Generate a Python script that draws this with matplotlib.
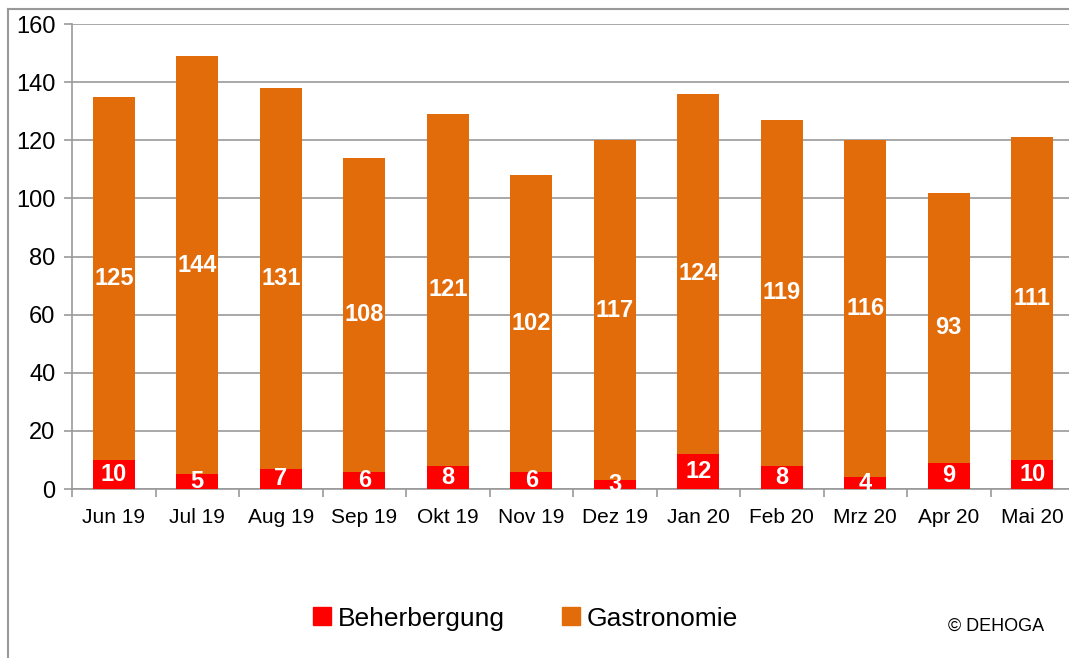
import numpy as np
import matplotlib
matplotlib.use("Agg")
import matplotlib.pyplot as plt
from matplotlib.lines import Line2D

plt.rcParams['font.family'] = ['Liberation Sans', 'DejaVu Sans']

months = ["Jun 19", "Jul 19", "Aug 19", "Sep 19", "Okt 19", "Nov 19",
          "Dez 19", "Jan 20", "Feb 20", "Mrz 20", "Apr 20", "Mai 20"]
beherbergung = [10, 5, 7, 6, 8, 6, 3, 12, 8, 4, 9, 10]
gastronomie = [125, 144, 131, 108, 121, 102, 117, 124, 119, 116, 93, 111]

red = "#FF0000"
orange = "#E36C0A"
grey = "#999999"

fig = plt.figure(figsize=(10.69, 6.58), dpi=100)
ax = fig.add_axes([0.0674, 0.2568, 0.9373, 0.7067])

x = np.arange(len(months))
ax.bar(x, beherbergung, width=0.5, color=red, label="Beherbergung", zorder=3)
ax.bar(x, gastronomie, width=0.5, bottom=beherbergung, color=orange,
       label="Gastronomie", zorder=3)

for i in range(len(months)):
    ax.text(x[i], beherbergung[i] / 2, str(beherbergung[i]), ha="center", va="center",
            color="white", fontsize=17, fontweight="bold", zorder=4)
    ax.text(x[i], beherbergung[i] + gastronomie[i] / 2, str(gastronomie[i]),
            ha="center", va="center", color="white", fontsize=17,
            fontweight="bold", zorder=4)

ax.set_xlim(-0.5, len(months) - 0.5)
ax.set_ylim(0, 160)
ax.set_yticks(range(0, 161, 20))
ax.tick_params(axis="y", labelsize=17, length=6, color=grey, width=1.2, pad=6)
ax.yaxis.grid(True, color=grey, linewidth=1.2, zorder=0)

ax.set_xticks(x)
ax.set_xticklabels(months, fontsize=15)
ax.tick_params(axis="x", length=0, pad=14)
ax.set_xticks(np.arange(-0.5, len(months), 1), minor=True)
ax.tick_params(axis="x", which="minor", length=6, color=grey, width=1.2)

for s in ["top", "right"]:
    ax.spines[s].set_visible(False)
for s in ["left", "bottom"]:
    ax.spines[s].set_color(grey)
    ax.spines[s].set_linewidth(1.2)

handles = [Line2D([], [], marker="s", linestyle="none", markersize=13, color=red),
           Line2D([], [], marker="s", linestyle="none", markersize=13, color=orange)]
fig.legend(handles, ["Beherbergung", "Gastronomie"], loc="center",
           bbox_to_anchor=(0.49, 0.06), ncol=2, frameon=False, fontsize=19,
           handletextpad=0.1, columnspacing=2.0, handlelength=1.0)

fig.text(0.887, 0.048, "© DEHOGA", fontsize=13, ha="left", va="center")

# outer frame
fig.add_artist(Line2D([8 / 1069, 8 / 1069], [0, 1 - 9 / 658], color=grey, linewidth=1.5,
                      transform=fig.transFigure))
fig.add_artist(Line2D([8 / 1069, 1], [1 - 9 / 658, 1 - 9 / 658], color=grey, linewidth=1.5,
                      transform=fig.transFigure))

fig.savefig("out.png", dpi=100)
